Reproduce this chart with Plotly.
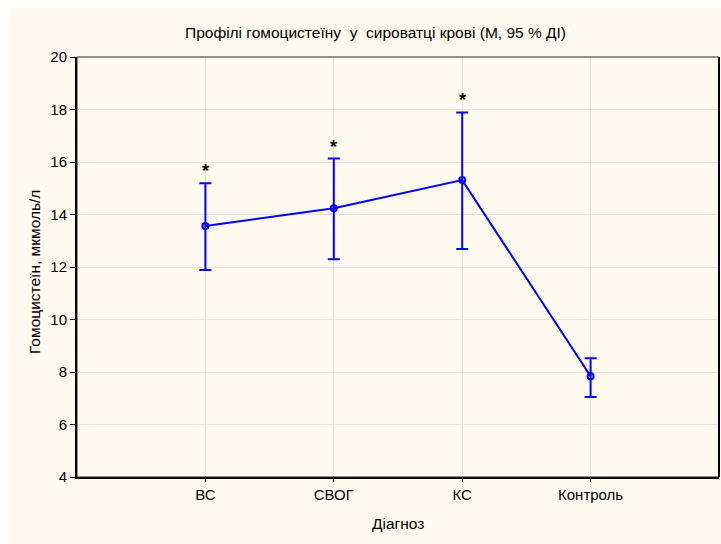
import plotly.graph_objects as go

# Homocysteine profile by diagnosis group: mean with 95 % CI
categories = ["ВС", "СВОГ", "КС", "Контроль"]
means = [13.56, 14.24, 15.31, 7.84]
ci_upper = [15.19, 16.13, 17.89, 8.52]
ci_lower = [11.89, 12.30, 12.69, 7.05]
significant = [True, True, True, False]
y_ticks = [4, 6, 8, 10, 12, 14, 16, 18, 20]

blue = "#0000FF"
cream = "#FFFAF0"
font_family = "Liberation Sans, Arial, sans-serif"

x_idx = list(range(len(categories)))
err_plus = [u - m for u, m in zip(ci_upper, means)]
err_minus = [m - l for m, l in zip(means, ci_lower)]

fig = go.Figure()
fig.add_trace(go.Scatter(
    x=x_idx, y=means, mode="lines+markers",
    line=dict(color=blue, width=2),
    marker=dict(symbol="circle-open", size=6, color=blue, line=dict(width=2)),
    error_y=dict(type="data", symmetric=False, array=err_plus, arrayminus=err_minus,
                 color=blue, thickness=2, width=6),
    showlegend=False, hoverinfo="skip",
))

# significance markers above the upper CI limit
annotations = []
for i, (up, sig) in enumerate(zip(ci_upper, significant)):
    if sig:
        annotations.append(dict(x=i, y=up, xref="x", yref="y", text="<b>*</b>", showarrow=False,
                                yshift=12, font=dict(size=18, color="black", family=font_family)))

W, H = 721, 544
L, R, T, B = 77, 2, 57, 67
pw, ph = W - L - R, H - T - B

def px_x(p):
    return (p - L) / pw

def px_y(p):
    return (H - B - p) / ph

label_font = dict(size=15.5, color="black", family=font_family)
annotations.append(dict(x=px_x(375), y=px_y(33), xref="paper", yref="paper",
                        xanchor="center", yanchor="middle",
                        text="Профілі гомоцистеїну  у  сироватці крові (М, 95 % ДІ)",
                        showarrow=False, font=label_font))
annotations.append(dict(x=px_x(398), y=px_y(523), xref="paper", yref="paper",
                        xanchor="center", yanchor="middle", text="Діагноз",
                        showarrow=False, font=label_font))
annotations.append(dict(x=px_x(34), y=px_y(272), xref="paper", yref="paper",
                        xanchor="center", yanchor="middle",
                        text="Гомоцистеїн, мкмоль/л", textangle=-90,
                        showarrow=False, font=label_font))

shapes = [
    # cream page panel behind the plot area
    dict(type="rect", xref="paper", yref="paper", x0=px_x(10), x1=px_x(W + 5),
         y0=px_y(H + 5), y1=px_y(8), fillcolor=cream, line=dict(width=0), layer="below"),
    # plot frame
    dict(type="rect", xref="paper", yref="paper", x0=0, x1=1, y0=0, y1=1,
         line=dict(color="#222222", width=1), layer="above"),
    dict(type="line", xref="paper", yref="paper", x0=1, x1=1, y0=0, y1=1,
         line=dict(color="black", width=2), layer="above"),
]

fig.update_layout(
    width=W, height=H,
    margin=dict(l=L, r=R, t=T, b=B),
    paper_bgcolor="white", plot_bgcolor="white",
    font=dict(family=font_family, size=15, color="black"),
    annotations=annotations, shapes=shapes,
    xaxis=dict(range=[-1, 4], tickmode="array", tickvals=x_idx, ticktext=categories,
               showgrid=True, gridcolor="#E3E3E3", gridwidth=1, zeroline=False,
               showline=True, linecolor="black", linewidth=2,
               ticks="outside", ticklen=3, tickcolor="black", tickfont=dict(size=15)),
    yaxis=dict(range=[4, 20], tickmode="array", tickvals=y_ticks,
               showgrid=True, gridcolor="#E3E3E3", gridwidth=1, zeroline=False,
               showline=True, linecolor="black", linewidth=2,
               ticks="outside", ticklen=5, tickcolor="black", tickfont=dict(size=15)),
)

fig.write_html("out.html")
